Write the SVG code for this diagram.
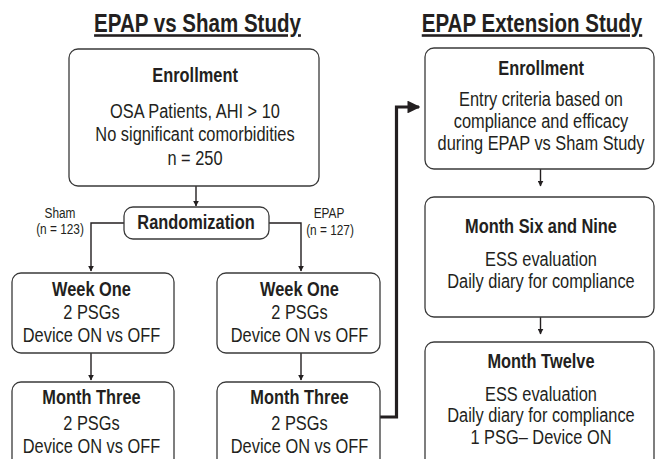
<svg xmlns="http://www.w3.org/2000/svg" width="655" height="459" viewBox="0 0 655 459">
<defs>
<style>
.t{font-family:"Liberation Sans",Arial,sans-serif;fill:#231f20;text-anchor:middle;font-size:21px;transform-box:fill-box;transform-origin:center;transform:scaleX(0.78)}
.b{font-weight:bold}
.h{font-weight:bold;font-size:26px;text-decoration:underline;transform:scaleX(0.79)}
.s{font-size:15px;transform:scaleX(0.79)}
.box{fill:#fff;stroke:#3a3a3a;stroke-width:1.3}
.c{fill:none;stroke:#231f20;stroke-width:1.4}
.k{fill:none;stroke:#231f20;stroke-width:3.2}
</style>
<marker id="a" viewBox="0 0 10 10" refX="9" refY="5" markerWidth="6" markerHeight="6" markerUnits="userSpaceOnUse" orient="auto"><path d="M0,0L10,5L0,10z" fill="#231f20"/></marker>
<marker id="ak" viewBox="0 0 10 10" refX="9" refY="5" markerWidth="4" markerHeight="4" orient="auto"><path d="M0,0L10,5L0,10z" fill="#231f20"/></marker>
</defs>
<rect width="655" height="459" fill="#fff"/>
<g id="titles">
<text class="t h" x="197.5" y="32">EPAP vs Sham Study</text>
<text class="t h" x="532" y="32">EPAP Extension Study</text>
</g>
<g id="connectors">
<path class="c" d="M196,186V206" marker-end="url(#a)"/>
<path class="c" d="M124,223H91V271" marker-end="url(#a)"/>
<path class="c" d="M269,223H301V271" marker-end="url(#a)"/>
<path class="c" d="M91,353V380" marker-end="url(#a)"/>
<path class="c" d="M301,353V380" marker-end="url(#a)"/>
<path class="k" d="M380,417H396.5V107H419" marker-end="url(#ak)"/>
<path class="c" d="M540.5,169V186" marker-end="url(#a)"/>
<path class="c" d="M540.5,317V334" marker-end="url(#a)"/>
<text class="t s" x="60" y="218">Sham</text>
<text class="t s" x="60" y="234">(n = 123)</text>
<text class="t s" x="329" y="218">EPAP</text>
<text class="t s" x="330" y="235">(n = 127)</text>
</g>
<g id="enrollment">
<rect class="box" x="69" y="49" width="250" height="137" rx="9"/>
<text class="t b" x="195" y="82">Enrollment</text>
<text class="t" x="195" y="118">OSA Patients, AHI &gt; 10</text>
<text class="t" x="195" y="141">No significant comorbidities</text>
<text class="t" x="195" y="165">n = 250</text>
</g>
<g id="randomization">
<rect class="box" x="124" y="207" width="145" height="32" rx="9"/>
<text class="t b" x="196" y="229">Randomization</text>
</g>
<g id="sham-week-one">
<rect class="box" x="12" y="273" width="162" height="80" rx="9"/>
<text class="t b" x="91.5" y="296">Week One</text>
<text class="t" x="91.5" y="319">2 PSGs</text>
<text class="t" x="91.5" y="342">Device ON vs OFF</text>
</g>
<g id="sham-month-three">
<rect class="box" x="12" y="382" width="162" height="90" rx="9"/>
<text class="t b" x="91.5" y="404">Month Three</text>
<text class="t" x="91.5" y="430">2 PSGs</text>
<text class="t" x="91.5" y="453">Device ON vs OFF</text>
</g>
<g id="epap-week-one">
<rect class="box" x="217" y="273" width="163" height="80" rx="9"/>
<text class="t b" x="299.5" y="296">Week One</text>
<text class="t" x="299.5" y="319">2 PSGs</text>
<text class="t" x="299.5" y="342">Device ON vs OFF</text>
</g>
<g id="epap-month-three">
<rect class="box" x="217" y="382" width="163" height="90" rx="9"/>
<text class="t b" x="299.5" y="404">Month Three</text>
<text class="t" x="299.5" y="430">2 PSGs</text>
<text class="t" x="299.5" y="453">Device ON vs OFF</text>
</g>
<g id="ext-enrollment">
<rect class="box" x="425" y="48" width="229" height="121" rx="9"/>
<text class="t b" x="541" y="75">Enrollment</text>
<text class="t" x="541" y="106">Entry criteria based on</text>
<text class="t" x="541" y="128">compliance and efficacy</text>
<text class="t" x="541" y="150">during EPAP vs Sham Study</text>
</g>
<g id="ext-month-six-nine">
<rect class="box" x="425" y="197" width="229" height="120" rx="9"/>
<text class="t b" x="541" y="233">Month Six and Nine</text>
<text class="t" x="541" y="266">ESS evaluation</text>
<text class="t" x="541" y="288">Daily diary for compliance</text>
</g>
<g id="ext-month-twelve">
<rect class="box" x="425" y="342" width="229" height="130" rx="9"/>
<text class="t b" x="541" y="368">Month Twelve</text>
<text class="t" x="541" y="401">ESS evaluation</text>
<text class="t" x="541" y="422">Daily diary for compliance</text>
<text class="t" x="541" y="444">1 PSG– Device ON</text>
</g>
</svg>
